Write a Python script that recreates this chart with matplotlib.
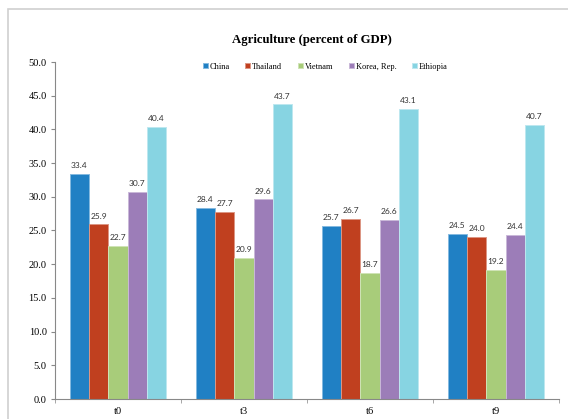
import numpy as np
import matplotlib
matplotlib.use("Agg")
import matplotlib.pyplot as plt
from matplotlib.patches import Rectangle
from matplotlib.colors import to_rgb

# -----------------------------------------------------------------------------
# data
# -----------------------------------------------------------------------------
periods = ["t0", "t3", "t6", "t9"]
countries = ["China", "Thailand", "Vietnam", "Korea, Rep.", "Ethiopia"]
china = [33.4, 28.4, 25.7, 24.5]
thailand = [25.9, 27.7, 26.7, 24.0]
vietnam = [22.7, 20.9, 18.7, 19.2]
korea = [30.7, 29.6, 26.6, 24.4]
ethiopia = [40.4, 43.7, 43.1, 40.7]
y_ticks = [0, 5, 10, 15, 20, 25, 30, 35, 40, 45, 50]

series = [china, thailand, vietnam, korea, ethiopia]
colors = ["#2080C4", "#C0401F", "#A8CC7A", "#9C7DB8", "#87D4E2"]


def lighter(c, f=0.45):
    r, g, b = to_rgb(c)
    return (r + (1 - r) * f, g + (1 - g) * f, b + (1 - b) * f)


fig = plt.figure(figsize=(5.68, 4.19), dpi=100)
fig.patch.set_facecolor("white")

# chart frame (cropped on the right / bottom like the source)
fig.patches.append(Rectangle((8 / 568, -0.1), 1.2, 1 - 9 / 419 + 0.1,
                             transform=fig.transFigure, fill=False,
                             edgecolor="#D0D0D0", linewidth=1.2))

ax = fig.add_axes([55 / 568, 1 - 399 / 419, 504 / 568, (399 - 62) / 419])

x = np.arange(len(periods))
bw = 0.153
for i, (vals, name, col) in enumerate(zip(series, countries, colors)):
    pos = x + (i - 2) * bw
    bars = ax.bar(pos, vals, width=bw, color=col, edgecolor=lighter(col),
                  linewidth=0.7, label=name)
    for b, v in zip(bars, vals):
        ax.annotate(f"{v:.1f}", (b.get_x() + b.get_width() / 2, v),
                    xytext=(0, 3.5), textcoords="offset points",
                    ha="center", va="bottom", fontsize=6,
                    color="#333333", family="Lato")

ax.set_xlim(-0.5, len(periods) - 0.5)
ax.set_ylim(0, 50)
ax.set_yticks(y_ticks)
ax.set_yticklabels([f"{t:.1f}" for t in y_ticks], family="Liberation Serif",
                   fontsize=7.5)
ax.set_xticks(x)
ax.set_xticklabels(periods, family="Liberation Serif", fontsize=7.5)
ax.tick_params(axis="x", which="major", length=0, pad=6)
ax.set_xticks(np.arange(-0.5, len(periods) + 0.5, 1), minor=True)
ax.tick_params(axis="x", which="minor", length=3, color="#999999")
ax.tick_params(axis="y", length=3, color="#888888", pad=3)

for s in ["top", "right"]:
    ax.spines[s].set_visible(False)
for s in ["left", "bottom"]:
    ax.spines[s].set_color("#888888")
    ax.spines[s].set_linewidth(0.8)

fig.text(312 / 568, 1 - 40 / 419, "Agriculture (percent of GDP)",
         ha="center", va="center", fontsize=9.2, fontweight="bold",
         family="Liberation Serif")

ax.legend(loc="upper center", bbox_to_anchor=(0.536, 1.02), ncol=5,
          frameon=False, prop={"family": "Liberation Serif", "size": 6},
          handlelength=0.6, handleheight=0.6, handletextpad=0.2,
          columnspacing=1.9)

fig.savefig("out.png", dpi=100)
